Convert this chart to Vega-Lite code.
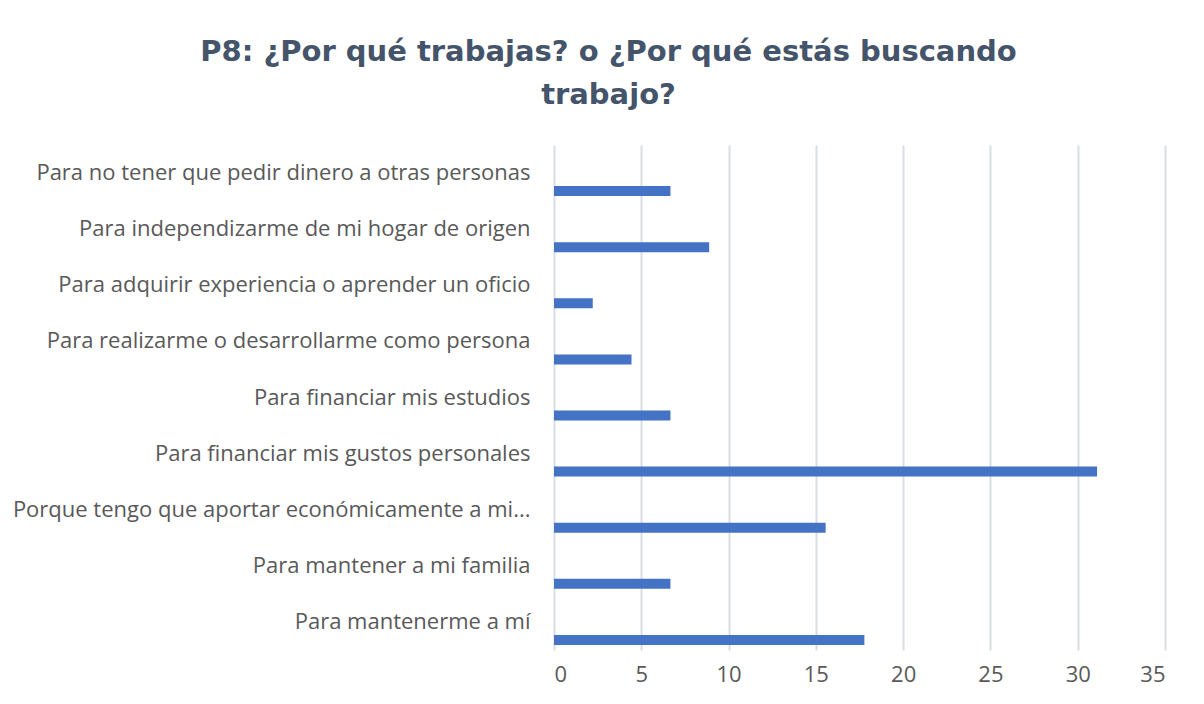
{
  "$schema": "https://vega.github.io/schema/vega-lite/v6.json",
  "width": 611,
  "height": 505,
  "autosize": "none",
  "padding": {"left": 554, "top": 145, "right": 39, "bottom": 54},
  "background": "white",
  "title": {
    "text": ["P8: ¿Por qué trabajas? o ¿Por qué estás buscando", "trabajo?"],
    "anchor": "middle",
    "dx": -251,
    "offset": 35,
    "font": "DejaVu Sans",
    "fontSize": 29,
    "fontWeight": "bold",
    "lineHeight": 43,
    "color": "#44546A"
  },
  "data": {
    "values": [
      {"motivo": "Para no tener que pedir dinero a otras personas", "valor": 6.67},
      {"motivo": "Para independizarme de mi hogar de origen", "valor": 8.89},
      {"motivo": "Para adquirir experiencia o aprender un oficio", "valor": 2.22},
      {"motivo": "Para realizarme o desarrollarme como persona", "valor": 4.44},
      {"motivo": "Para financiar mis estudios", "valor": 6.67},
      {"motivo": "Para financiar mis gustos personales", "valor": 31.11},
      {"motivo": "Porque tengo que aportar económicamente a mi...", "valor": 15.56},
      {"motivo": "Para mantener a mi familia", "valor": 6.67},
      {"motivo": "Para mantenerme a mí", "valor": 17.78}
    ]
  },
  "mark": {"type": "bar", "height": 10, "yOffset": 18, "color": "#4472C4"},
  "encoding": {
    "y": {
      "field": "motivo",
      "type": "nominal",
      "sort": null,
      "scale": {"paddingInner": 0, "paddingOuter": 0},
      "axis": {
        "title": null,
        "domain": false,
        "ticks": false,
        "grid": false,
        "labelPadding": 24,
        "labelFont": "Open Sans",
        "labelFontSize": 22,
        "labelColor": "#595959",
        "labelLimit": 600
      }
    },
    "x": {
      "field": "valor",
      "type": "quantitative",
      "scale": {"domain": [0, 35]},
      "axis": {
        "title": null,
        "values": [0, 5, 10, 15, 20, 25, 30, 35],
        "domain": false,
        "ticks": false,
        "grid": true,
        "gridColor": "#D9DDE6",
        "gridWidth": 2,
        "labelPadding": 14,
        "labelFont": "Open Sans",
        "labelFontSize": 22,
        "labelColor": "#595959"
      }
    }
  },
  "config": {"view": {"stroke": null}}
}
